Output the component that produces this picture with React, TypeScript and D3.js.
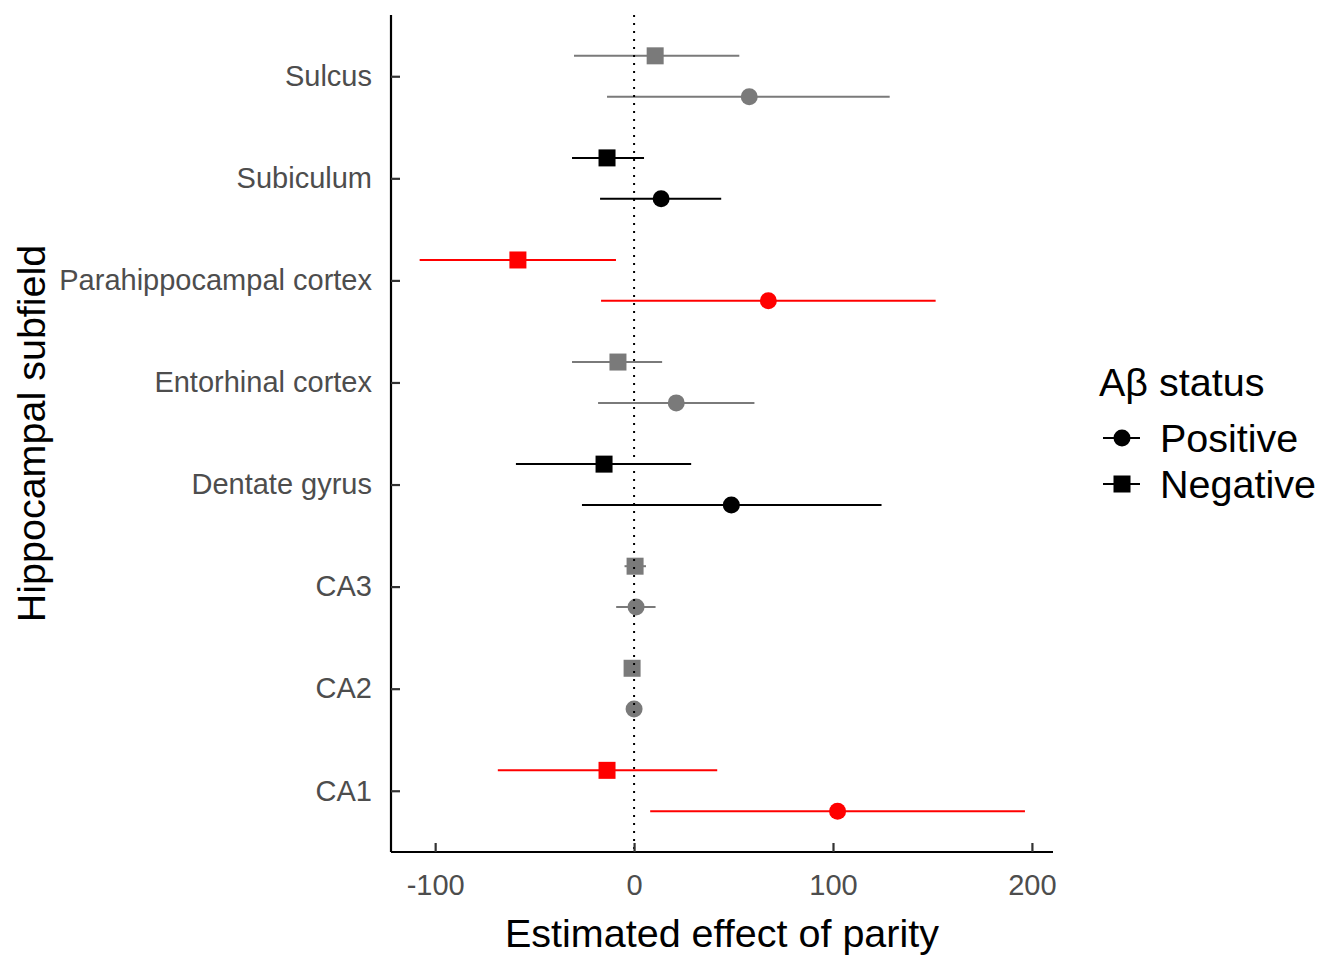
import React, { useRef, useEffect } from "react";
import * as d3 from "d3";

// Subfields, top to bottom
const subfields = [
  "Sulcus",
  "Subiculum",
  "Parahippocampal cortex",
  "Entorhinal cortex",
  "Dentate gyrus",
  "CA3",
  "CA2",
  "CA1",
];

// significance group per subfield (drives colour)
const sigLevel = ["ns", "trend", "sig", "ns", "trend", "ns", "ns", "sig"];

// Aβ negative (squares)
const negEst = [10.6, -13.6, -58.4, -8.1, -15.1, 0.5, -1.0, -13.6];
const negLo = [-30.2, -31.2, -107.8, -31.2, -59.4, -4.8, -1.5, -68.5];
const negHi = [52.9, 5.0, -9.1, 14.1, 28.7, 6.0, 1.0, 41.8];

// Aβ positive (circles)
const posEst = [57.9, 13.6, 67.5, 21.2, 48.9, 1.0, 0.0, 102.3];
const posLo = [-13.6, -17.1, -16.6, -18.1, -26.2, -9.0, -0.8, 8.1];
const posHi = [128.5, 43.8, 151.6, 60.5, 124.4, 10.8, 0.8, 196.5];

const xTicks = [-100, 0, 100, 200];
const legendItems = ["Positive", "Negative"];

const sigColor: Record<string, string> = {
  ns: "#7a7a7a",
  trend: "#000000",
  sig: "#ff0000",
};

export default function App() {
  const svgRef = useRef<SVGSVGElement>(null);

  useEffect(() => {
    if (!svgRef.current) return;
    const svg = d3.select(svgRef.current);
    svg.selectAll("*").remove();

    const left = 391, right = 1053, top = 15, bottom = 852;
    const font = "'Liberation Sans', Arial, sans-serif";
    const tickSize = "29px";
    const titleSize = "39.5px";

    const x = d3.scaleLinear().domain([-122.2, 210.6]).range([left, right]);
    const y = d3.scalePoint<string>().domain(subfields).range([top, bottom]).padding(0.6);
    const dodge = y.step() * 0.2;

    const rows = subfields.map((s, i) => ({
      name: s,
      color: sigColor[sigLevel[i]],
      neg: { est: negEst[i], lo: negLo[i], hi: negHi[i] },
      pos: { est: posEst[i], lo: posLo[i], hi: posHi[i] },
    }));

    const g = svg.append("g");

    // error bars
    rows.forEach((r) => {
      const cy = y(r.name)!;
      g.append("line")
        .attr("x1", x(r.neg.lo)).attr("x2", x(r.neg.hi))
        .attr("y1", cy - dodge).attr("y2", cy - dodge)
        .attr("stroke", r.color).attr("stroke-width", 2);
      g.append("line")
        .attr("x1", x(r.pos.lo)).attr("x2", x(r.pos.hi))
        .attr("y1", cy + dodge).attr("y2", cy + dodge)
        .attr("stroke", r.color).attr("stroke-width", 2);
    });

    // points
    const sq = 17;
    rows.forEach((r) => {
      const cy = y(r.name)!;
      g.append("rect")
        .attr("x", x(r.neg.est) - sq / 2).attr("y", cy - dodge - sq / 2)
        .attr("width", sq).attr("height", sq)
        .attr("fill", r.color);
      g.append("circle")
        .attr("cx", x(r.pos.est)).attr("cy", cy + dodge)
        .attr("r", 8.5)
        .attr("fill", r.color);
    });

    // zero reference line
    g.append("line")
      .attr("x1", x(0)).attr("x2", x(0))
      .attr("y1", top).attr("y2", bottom)
      .attr("stroke", "#000").attr("stroke-width", 2)
      .attr("stroke-dasharray", "2,6");

    // axes (ticks point inward)
    const xAxis = svg.append("g")
      .attr("transform", `translate(0,${bottom})`)
      .call(d3.axisBottom(x).tickValues(xTicks).tickSize(-9).tickPadding(22).tickFormat(d3.format("d")));
    xAxis.select(".domain").attr("stroke", "#000").attr("stroke-width", 2.2)
      .attr("d", `M${left},0H${right}`);
    xAxis.selectAll(".tick line").attr("stroke", "#333").attr("stroke-width", 2.2);
    xAxis.selectAll("text")
      .attr("fill", "#4d4d4d")
      .style("font-family", font)
      .style("font-size", tickSize)
      .attr("dy", "0.71em")
      .text((d: any) => (d < 0 ? `-${Math.abs(d)}` : `${d}`));

    const yAxis = svg.append("g")
      .attr("transform", `translate(${left},0)`)
      .call(d3.axisLeft(y).tickSize(-9).tickPadding(19));
    yAxis.select(".domain").attr("stroke", "#000").attr("stroke-width", 2.2)
      .attr("d", `M0,${top}V${bottom}`);
    yAxis.selectAll(".tick line").attr("stroke", "#333").attr("stroke-width", 2.2);
    yAxis.selectAll("text")
      .attr("fill", "#4d4d4d")
      .style("font-family", font)
      .style("font-size", tickSize);

    // axis titles
    svg.append("text")
      .attr("x", (left + right) / 2).attr("y", 947)
      .attr("text-anchor", "middle")
      .style("font-family", font).style("font-size", titleSize)
      .attr("fill", "#000")
      .text("Estimated effect of parity");

    svg.append("text")
      .attr("transform", `translate(45,${(top + bottom) / 2}) rotate(-90)`)
      .attr("text-anchor", "middle")
      .style("font-family", font).style("font-size", titleSize)
      .attr("fill", "#000")
      .text("Hippocampal subfield");

    // legend
    const lg = svg.append("g").attr("transform", "translate(1099,0)");
    lg.append("text")
      .attr("x", 0).attr("y", 396)
      .style("font-family", font).style("font-size", titleSize)
      .attr("fill", "#000")
      .text("Aβ status");
    legendItems.forEach((label, i) => {
      const cy = 438 + i * 46;
      lg.append("line")
        .attr("x1", 4).attr("x2", 41).attr("y1", cy).attr("y2", cy)
        .attr("stroke", "#000").attr("stroke-width", 2);
      if (label === "Positive") {
        lg.append("circle").attr("cx", 23).attr("cy", cy).attr("r", 8.5).attr("fill", "#000");
      } else {
        lg.append("rect").attr("x", 23 - sq / 2).attr("y", cy - sq / 2)
          .attr("width", sq).attr("height", sq).attr("fill", "#000");
      }
      lg.append("text")
        .attr("x", 61).attr("y", cy)
        .attr("dy", "0.36em")
        .style("font-family", font).style("font-size", titleSize)
        .attr("fill", "#000")
        .text(label);
    });
  }, []);

  return (
    <svg
      ref={svgRef}
      width={1344}
      height={960}
      style={{ position: "absolute", left: 0, top: 0, background: "#fff" }}
    />
  );
}
